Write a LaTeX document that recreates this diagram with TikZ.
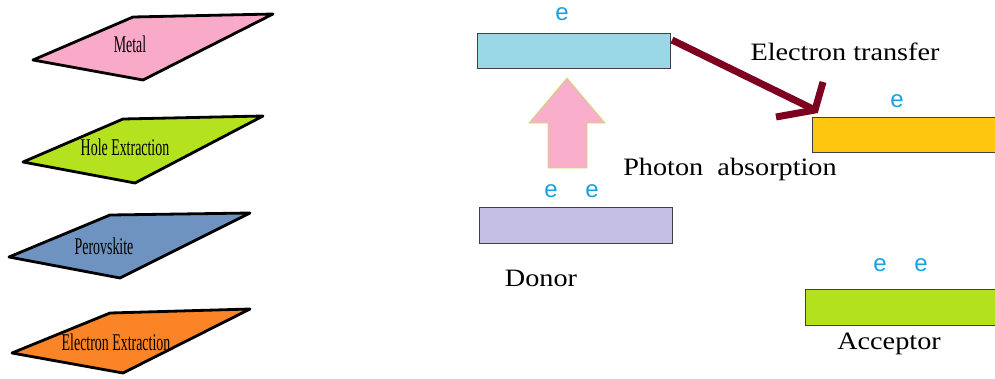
\documentclass[tikz,border=0pt]{standalone}
\usepackage{fontspec}
\setmainfont{Liberation Serif}
\newfontfamily\esans{Liberation Sans}
\definecolor{metalpink}{HTML}{F9AAC8}
\definecolor{holegreen}{HTML}{B5E21F}
\definecolor{perblue}{HTML}{6F93C0}
\definecolor{eorange}{HTML}{FB8526}
\definecolor{lumocyan}{HTML}{9AD8E8}
\definecolor{accorange}{HTML}{FFC60F}
\definecolor{donorlav}{HTML}{C6BFE4}
\definecolor{accgreen}{HTML}{B4E11E}
\definecolor{ecol}{HTML}{1BA1E2}
\definecolor{maroon}{HTML}{7D0020}
\definecolor{photonpink}{HTML}{F9AECB}
\definecolor{photonedge}{HTML}{C8E06A}
\definecolor{bandedge}{HTML}{404040}
\tikzset{
  layer/.style={draw=black, line width=2.8pt, line join=round},
  layerlabel/.style={font=\fontsize{24}{26}\selectfont, inner sep=0pt},
  band/.style={draw=bandedge, line width=1pt, anchor=north west, inner sep=0pt},
  elec/.style={font=\esans\fontsize{24}{26}\selectfont, text=ecol, inner sep=0pt},
  biglabel/.style={font=\fontsize{25}{28}\selectfont, inner sep=0pt},
}
\begin{document}
\begin{tikzpicture}[x=1pt,y=-1pt]
\useasboundingbox (0,0) rectangle (995,378);
% layer stack
\draw[layer, fill=metalpink] (33,60) -- (133,17) -- (273,14) -- (143,80) -- cycle;
\node[layerlabel] (metal) at (130,44) {\scalebox{0.58}[1]{Metal}};
\draw[layer, fill=holegreen] (23,162) -- (123,119) -- (263,116) -- (135,183) -- cycle;
\node[layerlabel] (hole) at (125,147) {\scalebox{0.58}[1]{Hole Extraction}};
\draw[layer, fill=perblue] (9,257) -- (110,215) -- (250,213) -- (120,278) -- cycle;
\node[layerlabel] (perov) at (104,246) {\scalebox{0.58}[1]{Perovskite}};
\draw[layer, fill=eorange] (12,353) -- (110,313) -- (250,309) -- (123,373) -- cycle;
\node[layerlabel] (eext) at (116,342) {\scalebox{0.58}[1]{Electron Extraction}};
% bands
\node[band, fill=lumocyan, minimum width=193pt, minimum height=35pt] (lumo) at (477,33) {};
\node[band, fill=donorlav, minimum width=193pt, minimum height=36pt] (donor) at (479,207) {};
\node[band, fill=accorange, minimum width=200pt, minimum height=35pt] (accup) at (812,117) {};
\node[band, fill=accgreen, minimum width=200pt, minimum height=36pt] (acclow) at (805,289) {};
% electrons
\node[elec] (e1) at (562,14) {e};
\node[elec] (e2) at (551,191) {e};
\node[elec] (e3) at (592,191) {e};
\node[elec] (e4) at (897,101) {e};
\node[elec] (e5) at (880,265) {e};
\node[elec] (e6) at (921,265) {e};
% labels
\node[biglabel] (donorlbl) at (541,278) {\scalebox{1.13}[1]{Donor}};
\node[biglabel] (acclbl) at (889,344) {\scalebox{1.13}[1]{Acceptor}};
\node[biglabel] (photonlbl) at (730,169) {\scalebox{1.13}[1]{Photon\ \ absorption}};
\node[biglabel] (etlbl) at (845,52) {\scalebox{1.13}[1]{Electron transfer}};
% photon block arrow
\draw[draw=photonedge, line width=0.8pt, fill=photonpink]
  (548,168) -- (548,123) -- (529,123) -- (567,78) -- (605,123) -- (587,123) -- (587,168) -- cycle;
% electron transfer arrow
\coordinate (tip) at (815,110);
\draw[maroon, line width=7pt] (lumo.north east) ++(1,7) -- (tip);
\draw[maroon, line width=7pt, line join=miter] (776,117) -- (tip) -- (823,82);
\end{tikzpicture}
\end{document}
